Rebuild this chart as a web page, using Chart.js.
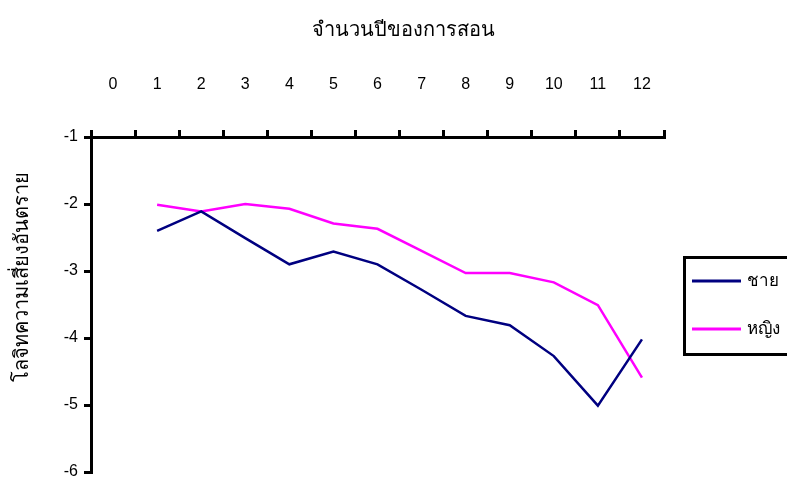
<!DOCTYPE html>
<html>
<head>
<meta charset="utf-8">
<script src="https://cdn.jsdelivr.net/npm/chart.js@4/dist/chart.umd.min.js"></script>
<style>
html,body{margin:0;padding:0;background:#fff;}
</style>
</head>
<body>
<canvas id="chart" width="787" height="477"></canvas>
<script>
// years of teaching (category axis across the top)
var years = ['0','1','2','3','4','5','6','7','8','9','10','11','12'];
// logit values, nothing plotted at year 0
var male   = [null,-2.40,-2.11,-2.51,-2.90,-2.71,-2.90,-3.28,-3.67,-3.81,-4.27,-5.01,-4.02];
var female = [null,-2.01,-2.11,-2.00,-2.07,-2.29,-2.37,-2.70,-3.03,-3.03,-3.17,-3.51,-4.59];
var seriesNames = ['ชาย','หญิง'];
var xTitle = 'จำนวนปีของการสอน';
var yTitle = 'โลจิทความเสี่ยงอันตราย';
var yMin = -6, yMax = -1;

var FONT = "'Liberation Sans Narrow','Liberation Sans',sans-serif";

// titles + boxed legend drawn by hand
var extras = {
	id: 'extras',
	afterDraw: function(chart){
		var ctx = chart.ctx;
		ctx.save();
		ctx.fillStyle = '#000';
		ctx.textAlign = 'center';
		ctx.textBaseline = 'middle';
		ctx.font = '20px ' + FONT;
		ctx.fillText(xTitle, 403, 30);

		ctx.save();
		ctx.translate(22, 277);
		ctx.rotate(-Math.PI/2);
		ctx.fillText(yTitle, 0, 0);
		ctx.restore();

		// legend box
		ctx.lineWidth = 3;
		ctx.strokeStyle = '#000';
		ctx.strokeRect(684.5, 257.5, 120, 97);
		var ys = [281, 329];
		ctx.font = '17px ' + FONT;
		ctx.textAlign = 'left';
		chart.data.datasets.forEach(function(ds, i){
			ctx.beginPath();
			ctx.lineWidth = 3;
			ctx.strokeStyle = ds.borderColor;
			ctx.moveTo(692, ys[i]);
			ctx.lineTo(741, ys[i]);
			ctx.stroke();
			ctx.fillStyle = '#000';
			ctx.fillText(ds.label, 747, ys[i]);
		});
		ctx.restore();
	}
};

new Chart(document.getElementById('chart'), {
	type: 'line',
	data: {
		labels: years,
		datasets: [
			{
				label: seriesNames[0],
				data: male,
				borderColor: '#000080',
				backgroundColor: '#000080',
				borderWidth: 2.5,
				pointRadius: 0,
				tension: 0,
				fill: false
			},
			{
				label: seriesNames[1],
				data: female,
				borderColor: '#FF00FF',
				backgroundColor: '#FF00FF',
				borderWidth: 2.5,
				pointRadius: 0,
				tension: 0,
				fill: false
			}
		]
	},
	options: {
		responsive: false,
		animation: false,
		layout: { padding: { top: 0, left: 0, right: 123, bottom: 5 } },
		plugins: {
			legend: { display: false },
			tooltip: { enabled: false }
		},
		scales: {
			x: {
				position: 'top',
				offset: true,
				grid: {
					offset: true,
					drawOnChartArea: false,
					drawTicks: true,
					tickLength: 7,
					color: '#000',
					lineWidth: 3
				},
				border: { display: true, color: '#000', width: 3 },
				ticks: {
					color: '#000',
					font: { family: FONT, size: 16 },
					padding: 36,
					maxRotation: 0,
					autoSkip: false
				},
				afterFit: function(scale){
					scale.height = 137;
					scale.paddingLeft = 0;
					scale.paddingRight = 0;
				}
			},
			y: {
				min: yMin,
				max: yMax,
				grid: {
					drawOnChartArea: false,
					drawTicks: true,
					tickLength: 7,
					color: '#000',
					lineWidth: 3
				},
				border: { display: true, color: '#000', width: 3 },
				ticks: {
					stepSize: 1,
					color: '#000',
					font: { family: FONT, size: 16 },
					padding: 6
				},
				afterFit: function(scale){
					scale.width = 91;
					scale.paddingTop = 0;
					scale.paddingBottom = 0;
				}
			}
		}
	},
	plugins: [extras]
});
</script>
</body>
</html>
